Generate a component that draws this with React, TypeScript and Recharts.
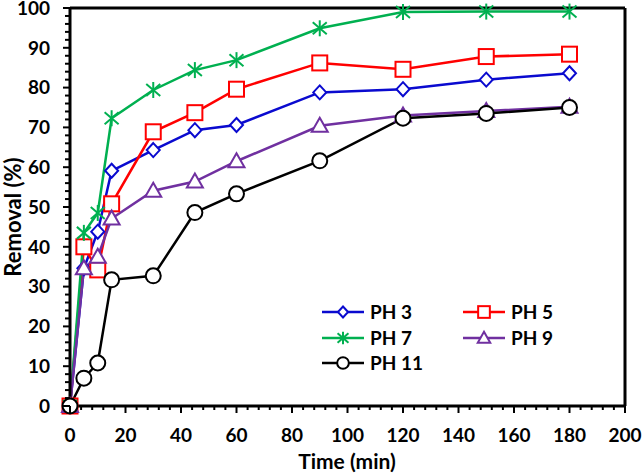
import React from "react";
import { LineChart, Line, XAxis, YAxis, ReferenceLine, Label } from "recharts";

// time (min) and removal (%)
const time = [0, 5, 10, 15, 30, 45, 60, 90, 120, 150, 180];
const ph3 = [0, 34.6, 43.8, 59.1, 64.3, 69.3, 70.6, 78.8, 79.6, 82.0, 83.6];
const ph5 = [0, 40.0, 34.2, 50.8, 68.9, 73.7, 79.6, 86.2, 84.6, 87.8, 88.4];
const ph7 = [0, 43.5, 48.5, 72.3, 79.4, 84.4, 86.9, 94.9, 99.0, 99.1, 99.1];
const ph9 = [0, 34.6, 37.5, 47.1, 54.1, 56.4, 61.5, 70.4, 73.0, 74.1, 75.2];
const ph11 = [0, 7.0, 10.8, 31.7, 32.7, 48.6, 53.3, 61.6, 72.3, 73.5, 75.0];

const xMajorTicks = [0, 20, 40, 60, 80, 100, 120, 140, 160, 180, 200];
const yMajorTicks = [0, 10, 20, 30, 40, 50, 60, 70, 80, 90, 100];
// minor ticks: every 4 min on x, every 2 % on y
const xAllTicks = Array.from({ length: 51 }, (_, i) => i * 4);
const yAllTicks = Array.from({ length: 51 }, (_, i) => i * 2);

const data = time.map((t, i) => ({
  t,
  ph3: ph3[i],
  ph5: ph5[i],
  ph7: ph7[i],
  ph9: ph9[i],
  ph11: ph11[i],
}));

const FONT = "Lato, 'Open Sans', sans-serif";

type Shape = "diamond" | "square" | "star" | "triangle" | "circle";

const series: { key: string; name: string; color: string; shape: Shape }[] = [
  { key: "ph3", name: "PH 3", color: "#0A0ACF", shape: "diamond" },
  { key: "ph5", name: "PH 5", color: "#FF0000", shape: "square" },
  { key: "ph7", name: "PH 7", color: "#00B050", shape: "star" },
  { key: "ph9", name: "PH 9", color: "#7030A0", shape: "triangle" },
  { key: "ph11", name: "PH 11", color: "#000000", shape: "circle" },
];

function Marker({ cx, cy, shape, color, k = 1 }: { cx: number; cy: number; shape: Shape; color: string; k?: number }) {
  if (cx == null || cy == null) return null;
  const sw = 2;
  switch (shape) {
    case "diamond":
      return (
        <polygon
          points={`${cx},${cy - 7 * k} ${cx + 6.5 * k},${cy} ${cx},${cy + 7 * k} ${cx - 6.5 * k},${cy}`}
          fill="#fff" stroke={color} strokeWidth={sw}
        />
      );
    case "square":
      return <rect x={cx - 7.5 * k} y={cy - 7.5 * k} width={15 * k} height={15 * k} fill="#fff" stroke={color} strokeWidth={sw} />;
    case "triangle":
      return (
        <polygon
          points={`${cx},${cy - 8 * k} ${cx + 8 * k},${cy + 6 * k} ${cx - 8 * k},${cy + 6 * k}`}
          fill="#fff" stroke={color} strokeWidth={sw}
        />
      );
    case "circle":
      return <circle cx={cx} cy={cy} r={7.5 * k} fill="#fff" stroke={color} strokeWidth={sw} />;
    case "star":
      return (
        <g stroke={color} strokeWidth={sw}>
          <line x1={cx} y1={cy - 8 * k} x2={cx} y2={cy + 8 * k} />
          <line x1={cx - 7 * k} y1={cy - 6 * k} x2={cx + 7 * k} y2={cy + 6 * k} />
          <line x1={cx - 7 * k} y1={cy + 6 * k} x2={cx + 7 * k} y2={cy - 6 * k} />
        </g>
      );
  }
  return null;
}

const tickText = { fontFamily: FONT, fontSize: 19, fontWeight: 700, fill: "#000" };

function XTick(props: any) {
  const { x, y, payload } = props;
  const v = payload.value;
  const major = xMajorTicks.includes(v);
  return (
    <g>
      <line x1={x} x2={x} y1={y} y2={y + (major ? 7 : 4)} stroke="#000" strokeWidth={2} />
      {major && (
        <text x={x} y={y + 36} textAnchor="middle" style={tickText}>
          {v}
        </text>
      )}
    </g>
  );
}

function YTick(props: any) {
  const { x, y, payload } = props;
  const v = payload.value;
  const major = yMajorTicks.includes(v);
  return (
    <g>
      <line x1={x - (major ? 7 : 5)} x2={x} y1={y} y2={y} stroke="#000" strokeWidth={2} />
      {major && (
        <text x={x - 20} y={y} dy="0.36em" textAnchor="end" style={tickText}>
          {v}
        </text>
      )}
    </g>
  );
}

function LegendBox() {
  const rows = [
    [series[0], series[1]],
    [series[2], series[3]],
    [series[4]],
  ];
  const cols = [322, 463];
  const ys = [312, 338, 363];
  return (
    <svg width={642} height={474} style={{ position: "absolute", left: 0, top: 0, pointerEvents: "none" }}>
      {rows.map((row, r) =>
        row.map((s, c) => {
          const x0 = cols[c];
          const y = ys[r];
          return (
            <g key={s.key}>
              <line x1={x0} x2={x0 + 42} y1={y} y2={y} stroke={s.color} strokeWidth={2.5} />
              <Marker cx={x0 + 21} cy={y} shape={s.shape} color={s.color} k={0.78} />
              <text x={x0 + 48} y={y} dy="0.36em" style={{ ...tickText, fontSize: 19 }}>
                {s.name}
              </text>
            </g>
          );
        })
      )}
    </svg>
  );
}

const titleStyle = { fontFamily: FONT, fontWeight: 700, fill: "#000" };

export default function App() {
  return (
    <div style={{ position: "absolute", left: 0, top: 0, width: 642, height: 474, background: "#fff" }}>
      <LineChart width={642} height={474} data={data} margin={{ top: 8, right: 17, bottom: 0, left: 0 }}>
        <XAxis
          dataKey="t"
          type="number"
          domain={[0, 200]}
          ticks={xAllTicks}
          interval={0}
          tick={<XTick />}
          tickLine={false}
          tickSize={0}
          tickMargin={0}
          height={68}
          axisLine={{ stroke: "#000", strokeWidth: 3 }}
        >
          <Label
            content={() => (
              <text x={347} y={469} textAnchor="middle" style={{ ...titleStyle, fontSize: 21 }}>
                Time (min)
              </text>
            )}
          />
        </XAxis>
        <YAxis
          type="number"
          domain={[0, 100]}
          ticks={yAllTicks}
          interval={0}
          tick={<YTick />}
          tickLine={false}
          tickSize={0}
          tickMargin={0}
          width={70}
          axisLine={{ stroke: "#000", strokeWidth: 3 }}
        >
          <Label
            content={() => (
              <text
                transform="translate(21,217) rotate(-90)"
                textAnchor="middle"
                style={{ ...titleStyle, fontSize: 22 }}
              >
                Removal (%)
              </text>
            )}
          />
        </YAxis>
        <ReferenceLine y={100} stroke="#000" strokeWidth={3} />
        <ReferenceLine x={200} stroke="#000" strokeWidth={3} />
        {series.map((s) => (
          <Line
            key={s.key}
            dataKey={s.key}
            name={s.name}
            stroke={s.color}
            strokeWidth={2.5}
            isAnimationActive={false}
            dot={(p: any) => <Marker key={`${s.key}-${p.index}`} cx={p.cx} cy={p.cy} shape={s.shape} color={s.color} />}
            activeDot={false}
          />
        ))}
      </LineChart>
      <LegendBox />
    </div>
  );
}
